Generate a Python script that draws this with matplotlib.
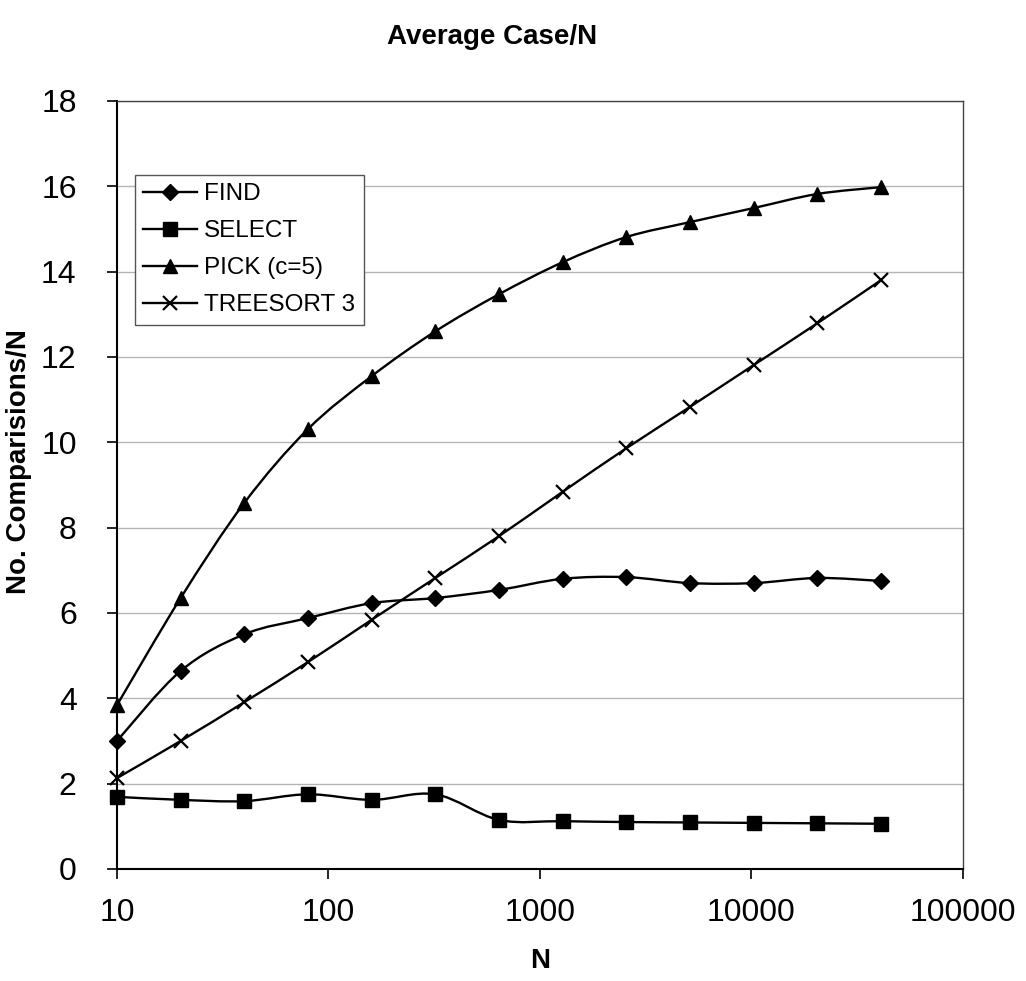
import numpy as np
import matplotlib
matplotlib.use('Agg')
import matplotlib.pyplot as plt
from matplotlib.path import Path
from matplotlib.patches import PathPatch
from matplotlib.lines import Line2D

plt.rcParams['font.family'] = ['Liberation Sans', 'DejaVu Sans']

# データ
n_values = [10, 20, 40, 80, 160, 320, 640, 1280, 2560, 5120, 10240, 20480, 40960]
find_vals = [3.0, 4.64, 5.5, 5.88, 6.23, 6.35, 6.54, 6.8, 6.84, 6.7, 6.7, 6.82, 6.75]
select_vals = [1.69, 1.62, 1.59, 1.75, 1.62, 1.75, 1.15, 1.12, 1.1, 1.09, 1.08, 1.07, 1.06]
pick_vals = [3.84, 6.35, 8.58, 10.31, 11.55, 12.6, 13.47, 14.22, 14.81, 15.16, 15.49, 15.82, 15.98]
treesort_vals = [2.13, 3.0, 3.91, 4.85, 5.84, 6.82, 7.8, 8.84, 9.86, 10.83, 11.81, 12.79, 13.8]

series_names = ['FIND', 'SELECT', 'PICK (c=5)', 'TREESORT 3']
series_vals = [find_vals, select_vals, pick_vals, treesort_vals]
markers = ['D', 's', '^', 'x']
marker_sizes = [8.5, 10, 10, 10]

x_ticks = [10, 100, 1000, 10000, 100000]
y_ticks = list(range(0, 19, 2))


def smooth_path(xs, ys):
    # Excel風のスムージング線 (log空間でのベジェ曲線)
    lx = np.log10(np.asarray(xs, dtype=float))
    y = np.asarray(ys, dtype=float)
    verts = [(xs[0], y[0])]
    codes = [Path.MOVETO]
    n = len(lx)
    for i in range(n - 1):
        p0 = max(i - 1, 0)
        p3 = min(i + 2, n - 1)
        c1x = lx[i] + (lx[i + 1] - lx[p0]) / 6
        c1y = y[i] + (y[i + 1] - y[p0]) / 6
        c2x = lx[i + 1] - (lx[p3] - lx[i]) / 6
        c2y = y[i + 1] - (y[p3] - y[i]) / 6
        verts += [(10 ** c1x, c1y), (10 ** c2x, c2y), (xs[i + 1], y[i + 1])]
        codes += [Path.CURVE4, Path.CURVE4, Path.CURVE4]
    return Path(verts, codes)


fig = plt.figure(figsize=(10.26, 9.81), dpi=100)
ax = fig.add_axes([0.114, 0.1142, 0.8246, 0.7829])
ax.set_xscale('log')
ax.set_xlim(10, 100000)
ax.set_ylim(0, 18)

ax.set_yticks(y_ticks)
ax.set_xticks(x_ticks)
ax.set_xticklabels([str(t) for t in x_ticks])
ax.xaxis.set_minor_locator(matplotlib.ticker.NullLocator())
ax.tick_params(axis='both', labelsize=23, direction='out', length=7, width=1.2, color='black')
ax.tick_params(axis='x', pad=14)
ax.tick_params(axis='y', pad=22)

ax.grid(True, axis='y', color='#b4b4b4', linewidth=1.0)
ax.set_axisbelow(True)
for side in ['left', 'bottom']:
    ax.spines[side].set_color('black')
    ax.spines[side].set_linewidth(1.5)
for side in ['top', 'right']:
    ax.spines[side].set_color('#444444')
    ax.spines[side].set_linewidth(1.0)

handles = []
for name, vals, m, ms in zip(series_names, series_vals, markers, marker_sizes):
    patch = PathPatch(smooth_path(n_values, vals), facecolor='none', edgecolor='black',
                      linewidth=1.7, transform=ax.transData, zorder=3)
    ax.add_patch(patch)
    ax.plot(n_values, vals, linestyle='none', marker=m, markersize=ms, color='black',
            markeredgewidth=1.6 if m == 'x' else 1.0, zorder=4, clip_on=False)
    handles.append(Line2D([], [], color='black', linewidth=1.7, marker=m,
                          markersize=ms, markeredgewidth=1.6 if m == 'x' else 1.0))

leg = ax.legend(handles, series_names, loc='upper left', bbox_to_anchor=(0.021, 0.904),
                fontsize=17.5, frameon=True, fancybox=False, edgecolor='#555555',
                framealpha=1.0, handlelength=2.2, handletextpad=0.3,
                labelspacing=0.62, borderpad=0.35, borderaxespad=0)
leg.get_frame().set_linewidth(1.0)

fig.text(0.48, 0.962, 'Average Case/N', ha='center', va='center', fontsize=20, fontweight='bold')
ax.set_xlabel('N', fontsize=20, fontweight='bold', labelpad=14)
ax.set_ylabel('No. Comparisions/N', fontsize=20, fontweight='bold')
ax.yaxis.set_label_coords(-0.1, 0.53)

plt.savefig('out.png', dpi=100)
plt.close()
